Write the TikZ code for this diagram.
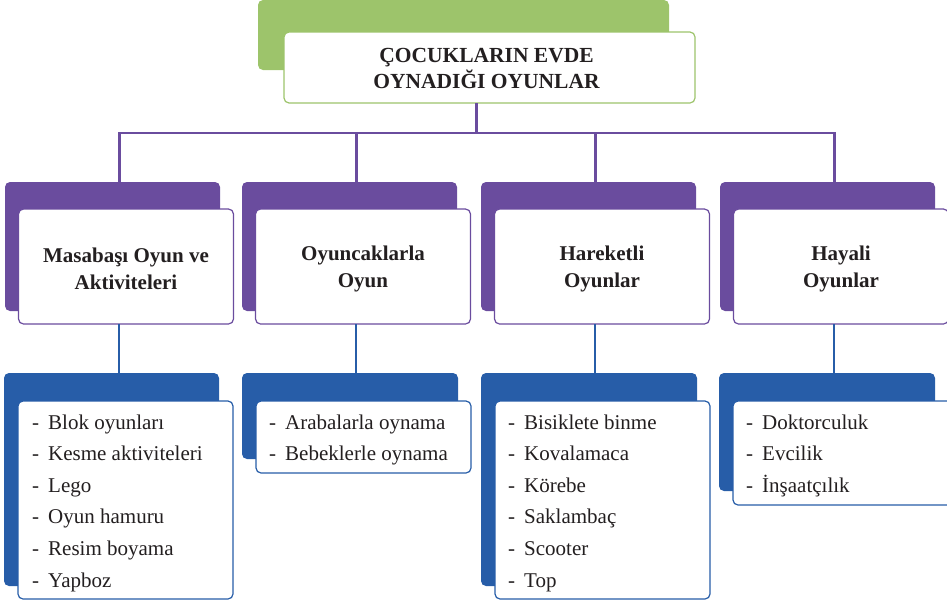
\documentclass[tikz,border=0pt]{standalone}
\usepackage{fontspec}
\setmainfont{Liberation Serif}
\usetikzlibrary{fit,calc}
\definecolor{cgreen}{HTML}{9DC46B}
\definecolor{cpurple}{HTML}{6A4C9E}
\definecolor{cblue}{HTML}{275DA8}
\definecolor{ctext}{HTML}{231F20}
\tikzset{
  back/.style={draw=none,rounded corners=5pt,anchor=north west,inner sep=0pt,outer sep=0pt},
  front/.style={fill=white,line width=1.2pt,rounded corners=5pt,anchor=north west,inner sep=0pt,outer sep=0pt},
  head/.style={font=\fontsize{21}{27}\selectfont\bfseries,text=ctext,align=center},
  titletxt/.style={font=\fontsize{21.5}{26}\selectfont\bfseries,text=ctext,align=center},
  item/.style={font=\fontsize{21}{25}\selectfont,text=ctext,anchor=base west,inner sep=0pt},
  grp/.style={inner sep=0pt,outer sep=0pt,draw=none},
  plink/.style={draw=cpurple,line width=2.5pt},
  blink/.style={draw=cblue,line width=2.2pt},
}
\newcommand{\itm}[1]{\makebox[16pt][l]{-}#1}
\begin{document}
\begin{tikzpicture}[x=1pt,y=-1pt]
\useasboundingbox (0,0) rectangle (947,603);
% title
\node[back,fill=cgreen,minimum width=411pt,minimum height=70pt] (t0b) at (258,0) {};
\node[front,draw=cgreen,minimum width=411pt,minimum height=71pt] (t0) at (284,32) {};
\node[titletxt] (t0txt) at ($(t0.center)+(-3,1)$) {ÇOCUKLARIN EVDE\\OYNADIĞI OYUNLAR};
\node[grp,fit=(t0b)(t0)] (g0) {};
% level 2
\foreach \n/\x/\t in {1/5/{Masabaşı Oyun ve\\Aktiviteleri},2/242/{Oyuncaklarla\\Oyun},3/481/{Hareketli\\Oyunlar},4/720/{Hayali\\Oyunlar}}{
  \node[back,fill=cpurple,minimum width=215pt,minimum height=129pt] (h\n b) at (\x,182) {};
  \node[front,draw=cpurple,minimum width=215pt,minimum height=115pt] (h\n) at (\x+13.5,209) {};
  \node[head] (h\n txt) at ($(h\n.center)+(0,2.5)$) {\t};
  \node[grp,fit=(h\n b)(h\n)] (g\n) {};
}
% level 3 boxes
\node[back,fill=cblue,minimum width=215pt,minimum height=213pt] (l1b) at (4,373) {};
\node[front,draw=cblue,minimum width=215pt,minimum height=198pt] (l1) at (18,401) {};
\node[back,fill=cblue,minimum width=216pt,minimum height=86pt] (l2b) at (242,373) {};
\node[front,draw=cblue,minimum width=215pt,minimum height=72pt] (l2) at (256,401) {};
\node[back,fill=cblue,minimum width=216pt,minimum height=213pt] (l3b) at (481,373) {};
\node[front,draw=cblue,minimum width=215pt,minimum height=198pt] (l3) at (495,401) {};
\node[back,fill=cblue,minimum width=216pt,minimum height=118pt] (l4b) at (719,373) {};
\node[front,draw=cblue,minimum width=220pt,minimum height=104pt] (l4) at (733,401) {};
\foreach \n in {1,2,3,4}{\node[grp,fit=(l\n b)(l\n)] (k\n) {};}
% items
\foreach \t [count=\i] in {Blok oyunları,Kesme aktiviteleri,Lego,Oyun hamuru,Resim boyama,Yapboz}
  \node[item] (a\i) at (32,{429+31.6*(\i-1)}) {\itm{\t}};
\foreach \t [count=\i] in {Arabalarla oynama,Bebeklerle oynama}
  \node[item] (b\i) at (269,{429+31.6*(\i-1)}) {\itm{\t}};
\foreach \t [count=\i] in {Bisiklete binme,Kovalamaca,Körebe,Saklambaç,Scooter,Top}
  \node[item] (c\i) at (508,{429+31.6*(\i-1)}) {\itm{\t}};
\foreach \t [count=\i] in {Doktorculuk,Evcilik,İnşaatçılık}
  \node[item] (d\i) at (746,{429+31.6*(\i-1)}) {\itm{\t}};
% connectors
\coordinate (bus) at (0,133);
\draw[plink] (g0.south) -- (g0.south |- bus);
\draw[plink,line cap=rect] (g1.north |- bus) -- (g4.north |- bus);
\foreach \n in {1,2,3,4}{
  \draw[plink] (g\n.north |- bus) -- (g\n.north);
  \draw[blink] (g\n.south) -- (k\n.north -| g\n.south);
}
\end{tikzpicture}
\end{document}
